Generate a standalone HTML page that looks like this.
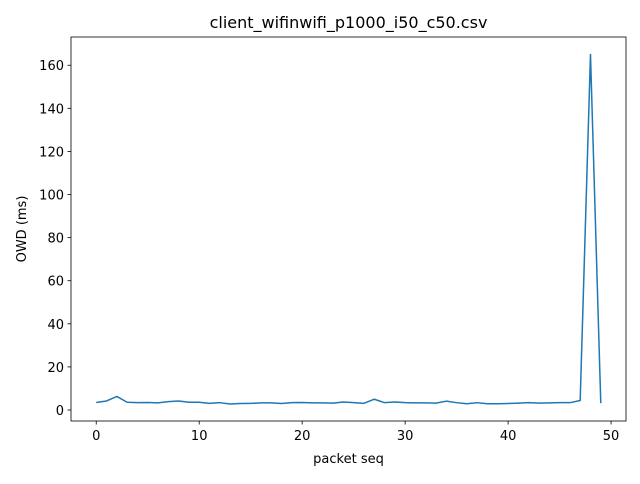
<!DOCTYPE html>
<html><head><meta charset="utf-8"><style>
body{margin:0;background:#fff;font-family:"DejaVu Sans","Liberation Sans",sans-serif}
svg text{font-family:"DejaVu Sans","Liberation Sans",sans-serif;fill:#000}
</style></head><body>
<svg id="c" width="640" height="480" xmlns="http://www.w3.org/2000/svg"></svg>
<script>
const seq=[0,1,2,3,4,5,6,7,8,9,10,11,12,13,14,15,16,17,18,19,20,21,22,23,24,25,26,27,28,29,30,31,32,33,34,35,36,37,38,39,40,41,42,43,44,45,46,47,48,49];
const owd=[3.5,4.2,6.3,3.6,3.4,3.5,3.3,3.9,4.2,3.6,3.6,3.1,3.4,2.8,3.0,3.1,3.3,3.3,3.0,3.4,3.5,3.3,3.3,3.2,3.7,3.4,3.1,5.0,3.4,3.7,3.4,3.3,3.3,3.2,4.1,3.4,2.9,3.4,2.9,2.9,3.0,3.2,3.4,3.2,3.3,3.4,3.4,4.4,165,3.2];
const xTicks=[0,10,20,30,40,50];
const yTicks=[0,20,40,60,80,100,120,140,160];
const NS="http://www.w3.org/2000/svg",svg=document.getElementById('c');
const L=71,R=626,T=37,B=421;
const xmin=-2.45,xmax=51.45,ymin=-5.1,ymax=173.1;
const X=v=>L+(v-xmin)/(xmax-xmin)*(R-L);
const Y=v=>B-(v-ymin)/(ymax-ymin)*(B-T);
function mk(t,a,txt){const e=document.createElementNS(NS,t);for(const k in a)e.setAttribute(k,a[k]);if(txt!=null)e.textContent=txt;svg.appendChild(e);return e;}
let e;
e=mk('polyline',{points:seq.map((s,i)=>X(s)+','+Y(owd[i])).join(' '),fill:'none',stroke:'#1f77b4','stroke-width':1.5,'stroke-linejoin':'round'});


e=mk('rect',{x:L,y:T,width:R-L,height:B-T,fill:'none',stroke:'#000','stroke-width':0.8});


xTicks.forEach(t=>{const x=X(t);
e=mk('line',{x1:x,x2:x,y1:B,y2:B+3.5,stroke:'#000','stroke-width':0.8});


e=mk('text',{x:x,y:B+19,'text-anchor':'middle','font-size':13},t);

});
yTicks.forEach(t=>{const y=Y(t);
e=mk('line',{x1:L-3.5,x2:L,y1:y,y2:y,stroke:'#000','stroke-width':0.8});


e=mk('text',{x:L-7,y:y+5,'text-anchor':'end','font-size':13},t);

});
e=mk('text',{x:(L+R)/2,y:463,'text-anchor':'middle','font-size':13},'packet seq');


e=mk('text',{x:0,y:0,'text-anchor':'middle','font-size':13,transform:'translate(26,'+((T+B)/2)+') rotate(-90)'},'OWD (ms)');


e=mk('text',{x:(L+R)/2,y:28,'text-anchor':'middle','font-size':16},'client_wifinwifi_p1000_i50_c50.csv');


</script>
</body></html>
